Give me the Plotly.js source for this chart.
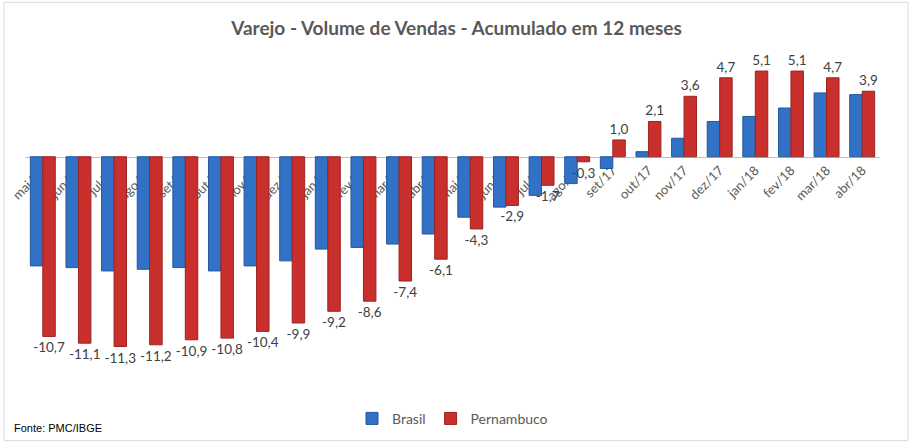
<!DOCTYPE html>
<html>
<head>
<meta charset="utf-8">
<script src="https://cdn.plot.ly/plotly-3.0.1.min.js"></script>
<style>
html,body{margin:0;padding:0;background:#fff;}
#chart{width:913px;height:447px;}
</style>
</head>
<body>
<div id="chart"></div>
<script>
const categories = ["mai/16","jun/16","jul/16","ago/16","set/16","out/16","nov/16","dez/16",
  "jan/17","fev/17","mar/17","abr/17","mai/17","jun/17","jul/17","ago/17","set/17",
  "out/17","nov/17","dez/17","jan/18","fev/18","mar/18","abr/18"];
const brasil = [-6.5,-6.6,-6.8,-6.7,-6.6,-6.8,-6.5,-6.2,-5.5,-5.4,-5.2,-4.6,-3.6,-3.0,-2.3,-1.6,-0.7,
  0.3,1.1,2.1,2.4,2.9,3.8,3.7];
const pernambuco = [-10.7,-11.1,-11.3,-11.2,-10.9,-10.8,-10.4,-9.9,-9.2,-8.6,-7.4,-6.1,-4.3,-2.9,-1.7,-0.3,1.0,
  2.1,3.6,4.7,5.1,5.1,4.7,3.9];

const FONT = "Lato, 'Open Sans', sans-serif";

const traces = [
  {
    type: "bar", name: "Brasil", x: categories, y: brasil,
    marker: {color: "#3171c6", line: {color: "#24579c", width: 1}},
    hoverinfo: "x+y"
  },
  {
    type: "bar", name: "Pernambuco", x: categories, y: pernambuco,
    marker: {color: "#c9302d", line: {color: "#9c2220", width: 1}},
    texttemplate: "%{y:.1f}", textposition: "outside", cliponaxis: false,
    constraintext: "none", textangle: 0,
    textfont: {family: FONT, size: 13.5, color: "#404040"},
    hoverinfo: "x+y"
  }
];

const yMin = -13.77, yMax = 5.76;
const zeroPos = (0 - yMin) / (yMax - yMin);

const layout = {
  width: 913, height: 447,
  margin: {l: 25, r: 33, t: 60, b: 57},
  paper_bgcolor: "#ffffff", plot_bgcolor: "#ffffff",
  separators: ",.",
  font: {family: FONT, color: "#595959"},
  title: {
    text: "<b>Varejo - Volume de Vendas - Acumulado em 12 meses</b>",
    font: {family: FONT, size: 19, color: "#595959"},
    x: 0.5, xanchor: "center", xref: "container",
    y: 1 - 28/447, yanchor: "middle", yref: "container"
  },
  barmode: "group", bargap: 0.3, bargroupgap: 0,
  xaxis: {
    type: "category", anchor: "free", position: zeroPos,
    showline: true, linecolor: "#bfbfbf", linewidth: 1,
    ticks: "", tickangle: -45, layer: "below traces",
    tickfont: {family: FONT, size: 13, color: "#595959"},
    showgrid: false, zeroline: false, fixedrange: true
  },
  yaxis: {
    range: [yMin, yMax], visible: false, showgrid: false, zeroline: false, fixedrange: true
  },
  showlegend: true,
  legend: {
    orientation: "h", x: 0.5, xanchor: "center", y: (390 - 421)/330, yanchor: "middle",
    font: {family: FONT, size: 14, color: "#595959"},
    traceorder: "normal", itemwidth: 30
  },
  annotations: [
    {
      text: "Fonte: PMC/IBGE", xref: "paper", yref: "paper",
      x: (12 - 25)/855, xanchor: "left", y: (390 - 430)/330, yanchor: "middle",
      showarrow: false,
      font: {family: "'Liberation Sans Narrow', 'Liberation Sans', Arial, sans-serif", size: 11, color: "#000000"}
    }
  ],
  shapes: [
    {
      type: "rect", xref: "paper", yref: "paper",
      x0: (4 - 25)/855, x1: (908 - 25)/855,
      y0: (390 - 443)/330, y1: (390 - 2)/330,
      line: {color: "#d9d9d9", width: 1}, fillcolor: "rgba(0,0,0,0)", layer: "below"
    }
  ]
};

Plotly.newPlot("chart", traces, layout, {displayModeBar: false, staticPlot: true});
</script>
</body>
</html>
